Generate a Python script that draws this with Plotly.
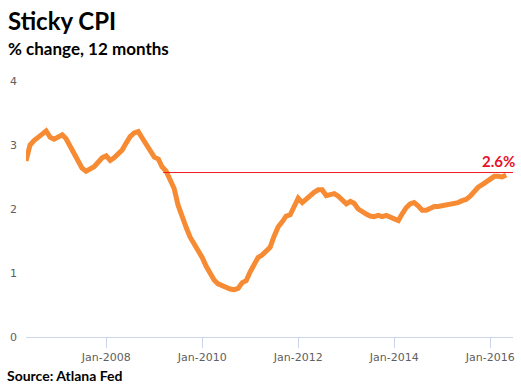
import plotly.graph_objects as go
import pandas as pd

# Monthly data, May 2006 .. May 2016
start_month = "2006-05-01"
sticky_cpi = [
    2.75, 3.00, 3.07, 3.13, 3.17, 3.22, 3.12, 3.09, 3.12, 3.16,
    3.10, 2.98, 2.84, 2.72, 2.64, 2.59, 2.62, 2.66, 2.73, 2.80,
    2.83, 2.76, 2.80, 2.85, 2.92, 3.03, 3.13, 3.19, 3.21, 3.11,
    3.00, 2.90, 2.81, 2.78, 2.66, 2.59, 2.47, 2.32, 2.06, 1.87,
    1.71, 1.56, 1.45, 1.36, 1.24, 1.10, 0.98, 0.89, 0.83, 0.80,
    0.78, 0.75, 0.74, 0.76, 0.85, 0.88, 1.02, 1.14, 1.24, 1.28,
    1.34, 1.40, 1.57, 1.72, 1.80, 1.89, 1.91, 2.06, 2.17, 2.10,
    2.16, 2.22, 2.26, 2.30, 2.30, 2.21, 2.22, 2.24, 2.20, 2.14,
    2.08, 2.12, 2.09, 2.00, 1.95, 1.92, 1.89, 1.88, 1.90, 1.88,
    1.90, 1.88, 1.86, 1.82, 1.92, 2.02, 2.08, 2.10, 2.05, 1.98,
    1.98, 2.02, 2.04, 2.04, 2.05, 2.06, 2.08, 2.09, 2.10, 2.13,
    2.15, 2.20, 2.27, 2.34, 2.38, 2.42, 2.45, 2.51, 2.51, 2.50,
    2.53,
]
dates = pd.date_range(start_month, periods=len(sticky_cpi), freq="MS")

latest_value = 2.57
latest_label = "2.6%"
ref_line_start = "2009-03-10"
x_range = ["2006-05-01", "2016-06-22"]
y_ticks = [0, 1, 2, 3, 4]

title = "Sticky CPI"
subtitle = "% change, 12 months"
source = "Source: Atlana Fed"

fig = go.Figure()
fig.add_trace(go.Scatter(
    x=dates, y=sticky_cpi, mode="lines",
    line=dict(color="#f68b33", width=5, shape="linear"),
    hoverinfo="x+y", showlegend=False,
))

fig.add_shape(type="line", xref="x", yref="y",
              x0=ref_line_start, x1=x_range[1], y0=latest_value, y1=latest_value,
              line=dict(color="#ee1c25", width=1), layer="above")

fig.add_annotation(x=x_range[1], y=latest_value, xref="x", yref="y",
                   text=f"<b>{latest_label}</b>", showarrow=False,
                   xanchor="right", yanchor="bottom", yshift=1, xshift=4,
                   font=dict(family="Lato", size=15, color="#e8102a"))

fig.add_annotation(x=-0.041, y=1.238, xref="paper", yref="paper",
                   text=f"<b>{title}</b>", showarrow=False,
                   xanchor="left", yanchor="middle",
                   font=dict(family="Lato", size=24, color="#000000"))
fig.add_annotation(x=-0.041, y=1.128, xref="paper", yref="paper",
                   text=f"<b>{subtitle}</b>", showarrow=False,
                   xanchor="left", yanchor="middle",
                   font=dict(family="Lato", size=17, color="#000000"))
fig.add_annotation(x=-0.043, y=-0.152, xref="paper", yref="paper",
                   text=f"<b>{source}</b>", showarrow=False,
                   xanchor="left", yanchor="middle",
                   font=dict(family="Lato", size=14, color="#000000"))

fig.update_layout(
    width=521, height=392,
    margin=dict(l=26, r=6, t=81, b=55),
    paper_bgcolor="white", plot_bgcolor="white",
    font=dict(family="DejaVu Sans", size=11, color="#666666"),
    xaxis=dict(
        range=x_range, type="date",
        tick0="2008-01-01", dtick="M24", tickformat="%b-%Y",
        showgrid=False, zeroline=False,
        showline=True, linecolor="#ccd6eb", linewidth=1,
        ticks="outside", ticklen=10, tickcolor="#ccd6eb", tickwidth=1,
        tickfont=dict(family="DejaVu Sans", size=11, color="#606060"),
    ),
    yaxis=dict(
        range=[0, 4], tickvals=y_ticks,
        showgrid=False, zeroline=False, showline=False,
        ticks="", ticklabelstandoff=8,
        tickfont=dict(family="DejaVu Sans", size=11, color="#606060"),
    ),
)

fig.write_html("out.html",
               config={"displayModeBar": False},
               post_script="document.body.style.margin='0';document.body.style.overflow='hidden';")
